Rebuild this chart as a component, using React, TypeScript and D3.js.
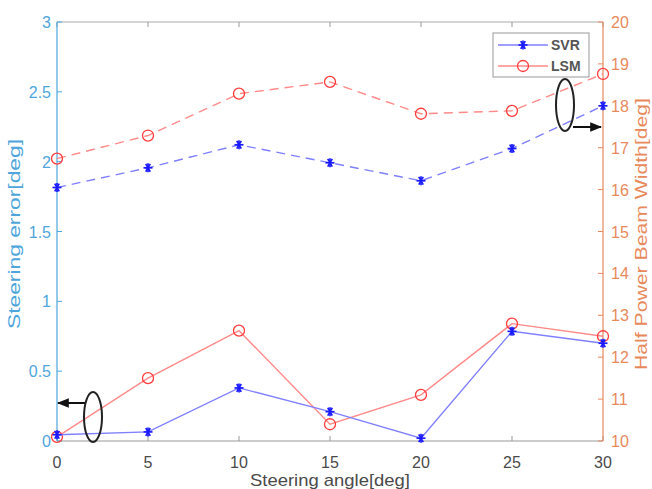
import React, { useRef, useEffect } from 'react';
import * as d3 from 'd3';

// steering angle [deg]
const angles = [0, 5, 10, 15, 20, 25, 30];
// steering error [deg] (left axis, solid)
const svrError = [0.045, 0.065, 0.38, 0.21, 0.02, 0.785, 0.70];
const lsmError = [0.03, 0.45, 0.79, 0.12, 0.33, 0.84, 0.75];
// half power beam width [deg] (right axis, dashed)
const svrHpbw = [16.05, 16.52, 17.07, 16.64, 16.21, 16.98, 18.0];
const lsmHpbw = [16.74, 17.29, 18.29, 18.57, 17.81, 17.88, 18.76];

const xTicks = [0, 5, 10, 15, 20, 25, 30];
const leftTicks = [0, 0.5, 1, 1.5, 2, 2.5, 3];
const rightTicks = [10, 11, 12, 13, 14, 15, 16, 17, 18, 19, 20];

const W = 652;
const H = 489;

const BLUE_AX = '#4ea6dc';
const ORANGE_AX = '#e8895c';
const BLUE_LINE = '#7f7fff';
const RED_LINE = '#ff8a8a';
const BLUE_MK = '#1a1aff';
const RED_MK = '#ff3b3b';

export default function App() {
  const svgRef = useRef<SVGSVGElement>(null);

  useEffect(() => {
    if (!svgRef.current) return;
    const svg = d3.select(svgRef.current);
    svg.selectAll('*').remove();

    const margin = { top: 22, right: 49, bottom: 48, left: 57 };
    const x = d3.scaleLinear().domain([0, 30]).range([margin.left, W - margin.right]);
    const yL = d3.scaleLinear().domain([0, 3]).range([H - margin.bottom, margin.top]);
    const yR = d3.scaleLinear().domain([10, 20]).range([H - margin.bottom, margin.top]);
    const font = 'Liberation Sans, Arial, sans-serif';

    svg.append('rect').attr('width', W).attr('height', H).attr('fill', 'white');

    // box top + bottom
    const x0 = x(0), x1 = x(30), yTop = yL(3), yBot = yL(0);
    svg.append('line').attr('x1', x0).attr('x2', x1).attr('y1', yTop).attr('y2', yTop)
      .attr('stroke', '#aaa').attr('stroke-width', 1);
    svg.append('line').attr('x1', x0).attr('x2', x1).attr('y1', yBot).attr('y2', yBot)
      .attr('stroke', '#999').attr('stroke-width', 1.2);

    // x ticks (inward both at bottom and top)
    xTicks.forEach(t => {
      svg.append('line').attr('x1', x(t)).attr('x2', x(t)).attr('y1', yBot).attr('y2', yBot - 5)
        .attr('stroke', '#999');
      svg.append('line').attr('x1', x(t)).attr('x2', x(t)).attr('y1', yTop).attr('y2', yTop + 5)
        .attr('stroke', '#999');
      svg.append('text').attr('x', x(t)).attr('y', yBot + 27).attr('text-anchor', 'middle')
        .attr('font-family', font).attr('font-size', 16).attr('fill', '#4a4a4a').text(t);
    });

    // left axis
    svg.append('line').attr('x1', x0).attr('x2', x0).attr('y1', yTop).attr('y2', yBot)
      .attr('stroke', BLUE_AX).attr('stroke-width', 1.2);
    leftTicks.forEach(t => {
      svg.append('line').attr('x1', x0).attr('x2', x0 + 5).attr('y1', yL(t)).attr('y2', yL(t))
        .attr('stroke', BLUE_AX);
      svg.append('text').attr('x', x0 - 6).attr('y', yL(t) + 6).attr('text-anchor', 'end')
        .attr('font-family', font).attr('font-size', 16).attr('fill', BLUE_AX).text(t);
    });

    // right axis
    svg.append('line').attr('x1', x1).attr('x2', x1).attr('y1', yTop).attr('y2', yBot)
      .attr('stroke', ORANGE_AX).attr('stroke-width', 1.2);
    rightTicks.forEach(t => {
      svg.append('line').attr('x1', x1).attr('x2', x1 - 5).attr('y1', yR(t)).attr('y2', yR(t))
        .attr('stroke', ORANGE_AX);
      svg.append('text').attr('x', x1 + 8).attr('y', yR(t) + 6).attr('text-anchor', 'start')
        .attr('font-family', font).attr('font-size', 16).attr('fill', ORANGE_AX).text(t);
    });

    // axis labels
    svg.append('text').attr('x', 330).attr('y', 486).attr('text-anchor', 'middle')
      .attr('font-family', font).attr('font-size', 17).attr('fill', '#4a4a4a')
      .attr('textLength', 160).attr('lengthAdjust', 'spacingAndGlyphs').text('Steering angle[deg]');
    svg.append('text').attr('transform', `translate(20, 234) rotate(-90)`)
      .attr('text-anchor', 'middle').attr('font-family', font).attr('font-size', 17)
      .attr('textLength', 190).attr('lengthAdjust', 'spacingAndGlyphs')
      .attr('fill', BLUE_AX).text('Steering error[deg]');
    svg.append('text').attr('transform', `translate(647, 234) rotate(-90)`)
      .attr('text-anchor', 'middle').attr('font-family', font).attr('font-size', 17)
      .attr('textLength', 272).attr('lengthAdjust', 'spacingAndGlyphs')
      .attr('fill', ORANGE_AX).text('Half Power Beam Width[deg]');

    const star = (g: any, cx: number, cy: number, r = 4.5) => {
      const s = g.append('g').attr('stroke', BLUE_MK).attr('stroke-width', 1.7);
      [0, 60, 120].forEach(a => {
        const rad = (a * Math.PI) / 180;
        s.append('line').attr('x1', cx - r * Math.cos(rad)).attr('y1', cy - r * Math.sin(rad))
          .attr('x2', cx + r * Math.cos(rad)).attr('y2', cy + r * Math.sin(rad));
      });
      s.append('line').attr('x1', cx).attr('x2', cx).attr('y1', cy - r).attr('y2', cy + r);
    };
    const circ = (g: any, cx: number, cy: number) => {
      g.append('circle').attr('cx', cx).attr('cy', cy).attr('r', 5.5)
        .attr('fill', 'none').attr('stroke', RED_MK).attr('stroke-width', 1.3);
    };

    const plot = svg.append('g');
    const series = [
      { vals: lsmError, y: yL, color: RED_LINE, dash: null, mk: 'o' },
      { vals: svrError, y: yL, color: BLUE_LINE, dash: null, mk: '*' },
      { vals: lsmHpbw, y: yR, color: RED_LINE, dash: '9,6', mk: 'o' },
      { vals: svrHpbw, y: yR, color: BLUE_LINE, dash: '9,6', mk: '*' },
    ];
    series.forEach(s => {
      const line = d3.line<number>().x((_, i) => x(angles[i])).y(d => s.y(d));
      plot.append('path').attr('d', line(s.vals)).attr('fill', 'none')
        .attr('stroke', s.color).attr('stroke-width', 1.4)
        .attr('stroke-dasharray', s.dash);
      s.vals.forEach((v, i) => {
        if (s.mk === 'o') circ(plot, x(angles[i]), s.y(v));
        else star(plot, x(angles[i]), s.y(v));
      });
    });

    // legend
    const lg = svg.append('g');
    lg.append('rect').attr('x', 493).attr('y', 33).attr('width', 96).attr('height', 44)
      .attr('fill', 'white').attr('stroke', '#999').attr('stroke-width', 1);
    lg.append('line').attr('x1', 498).attr('x2', 548).attr('y1', 45).attr('y2', 45)
      .attr('stroke', BLUE_LINE).attr('stroke-width', 1.4);
    star(lg, 523, 45);
    lg.append('line').attr('x1', 498).attr('x2', 548).attr('y1', 66).attr('y2', 66)
      .attr('stroke', RED_LINE).attr('stroke-width', 1.4);
    circ(lg, 523, 66);
    lg.append('text').attr('x', 551).attr('y', 50).attr('font-family', font).attr('font-size', 14)
      .attr('font-weight', 'bold').attr('fill', '#555').text('SVR');
    lg.append('text').attr('x', 551).attr('y', 71).attr('font-family', font).attr('font-size', 14)
      .attr('font-weight', 'bold').attr('fill', '#555').text('LSM');

    // annotations: ellipses + arrows
    const ann = svg.append('g');
    ann.append('defs').append('marker').attr('id', 'arrowhead').attr('viewBox', '0 0 10 10')
      .attr('refX', 9).attr('refY', 5).attr('markerWidth', 6).attr('markerHeight', 6)
      .attr('orient', 'auto').append('path').attr('d', 'M0,1 L10,5 L0,9 Z').attr('fill', '#111');
    ann.append('ellipse').attr('cx', 93).attr('cy', 417).attr('rx', 9).attr('ry', 25)
      .attr('fill', 'none').attr('stroke', '#222').attr('stroke-width', 2);
    ann.append('line').attr('x1', 85).attr('y1', 403).attr('x2', 58).attr('y2', 403)
      .attr('stroke', '#111').attr('stroke-width', 2).attr('marker-end', 'url(#arrowhead)');
    ann.append('ellipse').attr('cx', 565).attr('cy', 105).attr('rx', 9).attr('ry', 26)
      .attr('fill', 'none').attr('stroke', '#222').attr('stroke-width', 2);
    ann.append('line').attr('x1', 573).attr('y1', 127).attr('x2', 601).attr('y2', 127)
      .attr('stroke', '#111').attr('stroke-width', 2).attr('marker-end', 'url(#arrowhead)');
  }, []);

  return (
    <svg ref={svgRef} width={W} height={H}
      style={{ position: 'absolute', left: 0, top: 0, display: 'block' }} />
  );
}
